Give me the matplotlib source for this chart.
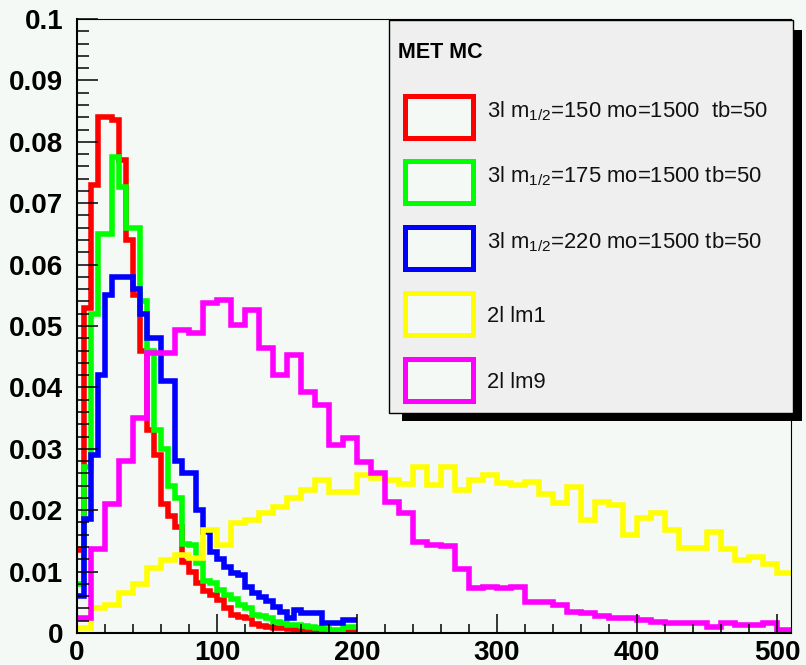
import numpy as np
import matplotlib
matplotlib.use('Agg')
import matplotlib.pyplot as plt
from matplotlib.patches import Rectangle
from matplotlib.ticker import MultipleLocator, FuncFormatter

plt.rcParams['font.family'] = ['Liberation Sans', 'DejaVu Sans']
plt.rcParams['mathtext.fontset'] = 'custom'
plt.rcParams['mathtext.rm'] = 'Liberation Sans'
plt.rcParams['mathtext.it'] = 'Liberation Sans:italic'
plt.rcParams['mathtext.bf'] = 'Liberation Sans:bold'

# MET distributions, normalised to unit area
edges_3l = np.arange(0, 205, 5)     # 40 bins of 5 GeV
edges_2l = np.arange(0, 520, 10)    # 51 bins of 10 GeV

met_m150 = [0.0135, 0.053, 0.073, 0.084, 0.084, 0.0836, 0.077, 0.064, 0.055, 0.046,
            0.033, 0.029, 0.021, 0.019, 0.0173, 0.0115, 0.0100, 0.0082, 0.0069, 0.0062,
            0.0054, 0.0040, 0.0030, 0.0026, 0.0025, 0.0014, 0.0012, 0.0010, 0.0008, 0.0008,
            0.0006, 0.0005, 0.0005, 0.0004, 0.0003, 0.0002, 0.0002, 0.0001, 0.0001, 0.0001]
met_m175 = [0.008, 0.027, 0.052, 0.065, 0.065, 0.0775, 0.0726, 0.066, 0.066, 0.054,
            0.046, 0.033, 0.030, 0.024, 0.022, 0.0145, 0.0143, 0.0114, 0.0085, 0.0081,
            0.0070, 0.0062, 0.0055, 0.0046, 0.0040, 0.0030, 0.0027, 0.0024, 0.0018, 0.0017,
            0.0013, 0.0013, 0.0012, 0.0010, 0.0008, 0.0007, 0.0005, 0.0005, 0.0010, 0.0010]
met_m220 = [0.006, 0.0185, 0.029, 0.042, 0.055, 0.058, 0.058, 0.058, 0.056, 0.052,
            0.048, 0.048, 0.041, 0.041, 0.028, 0.026, 0.026, 0.020, 0.0165, 0.0132,
            0.012, 0.0108, 0.0098, 0.0095, 0.0075, 0.0065, 0.0059, 0.0052, 0.0043, 0.0035,
            0.0024, 0.0038, 0.0033, 0.0033, 0.0032, 0.0016, 0.0016, 0.0016, 0.0021, 0.0021]
met_lm1 = [0.0008, 0.0040, 0.0046, 0.0065, 0.0080, 0.0106, 0.0119, 0.0127, 0.0122, 0.0168,
           0.0143, 0.0179, 0.0184, 0.0195, 0.0205, 0.0220, 0.0233, 0.0249, 0.0230, 0.0230,
           0.0257, 0.0252, 0.0250, 0.0242, 0.0271, 0.0241, 0.0271, 0.0233, 0.0249, 0.0257,
           0.0244, 0.0241, 0.0246, 0.0227, 0.0211, 0.0238, 0.0184, 0.0214, 0.0208, 0.0160,
           0.0187, 0.0195, 0.0168, 0.0138, 0.0138, 0.0165, 0.0136, 0.0119, 0.0124, 0.0113,
           0.0097]
met_lm9 = [0.0025, 0.0137, 0.0210, 0.0280, 0.0350, 0.0456, 0.0456, 0.0493, 0.0488, 0.0537,
           0.0542, 0.0502, 0.0526, 0.0464, 0.0420, 0.0453, 0.0393, 0.0371, 0.0306, 0.0317,
           0.0279, 0.0260, 0.0214, 0.0195, 0.0149, 0.0144, 0.0141, 0.0105, 0.0073, 0.0075,
           0.0073, 0.0075, 0.0051, 0.0051, 0.0046, 0.0035, 0.0032, 0.0027, 0.0024, 0.0024,
           0.0021, 0.0018, 0.0016, 0.0016, 0.0016, 0.0010, 0.0016, 0.0013, 0.0013, 0.0016,
           0.0005]

labels = [r'3l $\mathrm{m}_{\mathrm{1/2}}$=150 mo=1500  tb=50',
          r'3l $\mathrm{m}_{\mathrm{1/2}}$=175 mo=1500 tb=50',
          r'3l $\mathrm{m}_{\mathrm{1/2}}$=220 mo=1500 tb=50',
          '2l lm1',
          '2l lm9']
colors = ['#ff0000', '#00ff00', '#0000ff', '#ffff00', '#ff00ff']
series = [(met_m150, edges_3l), (met_m175, edges_3l), (met_m220, edges_3l),
          (met_lm1, edges_2l), (met_lm9, edges_2l)]

W, H = 806, 665
BG = '#f5f9f5'


def fx(x):
    return x / W


def fy(y):
    return 1 - y / H


fig = plt.figure(figsize=(W / 100, H / 100), dpi=100, facecolor=BG)
ax = fig.add_axes([fx(77), fy(633), (791 - 77) / W, (633 - 19) / H])
ax.set_facecolor(BG)

for (vals, edges), col in zip(series, colors):
    ax.stairs(vals, edges, color=col, lw=4.0, baseline=None)

ax.set_xlim(0, 510)
ax.set_ylim(0, 0.1)
ax.xaxis.set_major_locator(MultipleLocator(100))
ax.xaxis.set_minor_locator(MultipleLocator(20))
ax.yaxis.set_major_locator(MultipleLocator(0.01))
ax.yaxis.set_minor_locator(MultipleLocator(0.002))
ax.yaxis.set_major_formatter(FuncFormatter(lambda v, p: '%g' % round(v, 3)))

ax.tick_params(which='both', direction='in', top=False, right=False,
               width=1.1, color='black', labelsize=20)
ax.tick_params(axis='y', which='major', length=15, pad=10)
ax.tick_params(axis='y', which='minor', length=8.6)
ax.tick_params(axis='x', which='major', length=14, pad=5)
ax.tick_params(axis='x', which='minor', length=6.5)
for lab in ax.get_xticklabels() + ax.get_yticklabels():
    lab.set_fontweight('bold')

for side in ['left', 'bottom']:
    ax.spines[side].set_linewidth(1.5)
for side in ['top', 'right']:
    ax.spines[side].set_linewidth(0.8)

# legend panel with drop shadow
fig.add_artist(Rectangle((fx(402), fy(421)), (802 - 402) / W, (421 - 30) / H,
                         transform=fig.transFigure, facecolor='black',
                         edgecolor='none', zorder=10))
fig.add_artist(Rectangle((fx(389), fy(413)), (793 - 389) / W, (413 - 20) / H,
                         transform=fig.transFigure, facecolor='#efefef',
                         edgecolor='black', lw=1, zorder=11))
fig.text(fx(398), fy(58), 'MET MC', fontsize=15.5, fontweight='bold',
         ha='left', va='baseline', zorder=12)

for i, (lab, col) in enumerate(zip(labels, colors)):
    yc = 116.5 + 65.75 * i
    fig.add_artist(Rectangle((fx(404.5), fy(yc + 21)), 68 / W, 42 / H,
                             transform=fig.transFigure, facecolor=BG,
                             edgecolor=col, lw=3.6, zorder=12))
    base = yc + 0.5 if i < 3 else yc + 8
    fig.text(fx(487), fy(base), lab, fontsize=15.8, color='#111111',
             ha='left', va='baseline', zorder=12)

fig.savefig('out.png', dpi=100, facecolor=BG)
